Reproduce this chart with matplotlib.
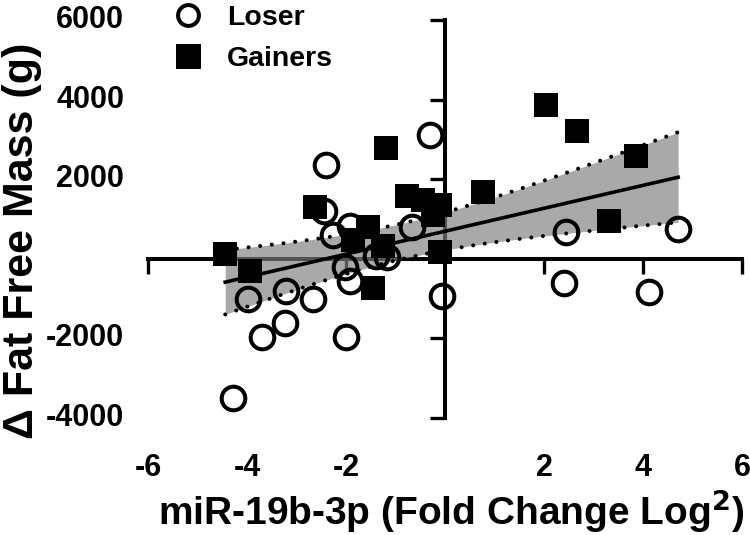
import numpy as np
import matplotlib.pyplot as plt
from matplotlib.lines import Line2D
from matplotlib.transforms import blended_transform_factory

plt.rcParams['font.family'] = ['Liberation Sans', 'DejaVu Sans']
plt.rcParams['font.weight'] = 'bold'

# data
loser_x = [-0.30, -2.41, -2.45, -2.26, -1.91, -2.03, -1.92, -1.40, -1.18, -0.67, -0.06,
           -3.97, -3.21, -2.66, -3.23, -3.70, -1.99, -4.28, 2.44, 4.71, 2.40, 4.13]
loser_y = [3110, 2350, 1210, 590, 830, -200, -570, 60, 40, 790, -930,
           -1000, -810, -1006, -1602, -1970, -1970, -3490, 672, 755, -596, -838]

gainer_x = [-4.44, -3.94, -2.62, -1.19, -1.55, -1.85, -1.26, -1.45, -0.77, -0.44, -0.10,
            -0.25, -0.10, 0.76, 2.04, 2.67, 3.86, 3.31]
gainer_y = [126, -300, 1310, 2785, 790, 478, 310, -740, 1585, 1470, 1360,
            1100, 160, 1668, 3857, 3203, 2592, 940]

xticks = [-6, -4, -2, 2, 4, 6]
yticks = [-4000, -2000, 2000, 4000, 6000]

# linear fit + 95% CI over all subjects
x_all = np.array(loser_x + gainer_x)
y_all = np.array(loser_y + gainer_y)
n = len(x_all)
slope, icpt = np.polyfit(x_all, y_all, 1)
xs = np.linspace(x_all.min(), x_all.max(), 200)
fit = icpt + slope * xs
resid = y_all - (icpt + slope * x_all)
s = np.sqrt(np.sum(resid ** 2) / (n - 2))
sxx = np.sum((x_all - x_all.mean()) ** 2)
t_crit = 2.024  # t(0.975, df=38)
ci = t_crit * s * np.sqrt(1 / n + (xs - x_all.mean()) ** 2 / sxx)

fig = plt.figure(figsize=(7.5, 5.35), dpi=100)
ax = fig.add_axes([148 / 750, 117 / 535, 594 / 750, 398 / 535])
ax.set_xlim(-6, 6)
ax.set_ylim(-4000, 6000)

ax.fill_between(xs, fit - ci, fit + ci, color='#7f7f7f', alpha=0.67, lw=0, zorder=3)
ax.plot(xs, fit + ci, color='black', lw=2.9, ls=(0, (0.01, 2.9)), dash_capstyle='round', zorder=4)
ax.plot(xs, fit - ci, color='black', lw=2.9, ls=(0, (0.01, 2.9)), dash_capstyle='round', zorder=4)
ax.plot(xs, fit, color='black', lw=2.6, zorder=4)

ax.plot(loser_x, loser_y, ls='none', marker='o', ms=17, mfc='none', mec='black', mew=2.9, zorder=5)
ax.plot(gainer_x, gainer_y, ls='none', marker='s', ms=17, mfc='black', mec='black', mew=0, zorder=6)

# axes crossing at origin
for side in ['top', 'right']:
    ax.spines[side].set_visible(False)
ax.spines['left'].set_position(('data', 0))
ax.spines['bottom'].set_position(('data', 0))
ax.spines['left'].set_linewidth(2.9)
ax.spines['bottom'].set_linewidth(2.9)
ax.set_xticks(xticks)
ax.set_yticks(yticks)
ax.tick_params(length=11, width=2.4, direction='out', labelbottom=False, labelleft=False)

tx = blended_transform_factory(ax.transData, ax.transAxes)
for v in xticks:
    ax.text(v, -0.126, str(v), transform=tx, ha='center', va='center', fontsize=22, fontweight='bold')
ty = blended_transform_factory(ax.transAxes, ax.transData)
for v in yticks:
    ax.text(-0.04, v, str(v), transform=ty, ha='right', va='center', fontsize=22, fontweight='bold')

fig.text(0.601, 0.045, 'miR-19b-3p (Fold Change Log$^\\mathbf{2}$)', ha='center', va='center',
         fontsize=28, fontweight='bold')
fig.text(0.029, 0.55, '\u0394 Fat Free Mass (g)', ha='center', va='center', rotation=90,
         fontsize=31, fontweight='bold')

handles = [Line2D([], [], ls='none', marker='o', ms=15, mfc='none', mec='black', mew=2.9),
           Line2D([], [], ls='none', marker='s', ms=18, mfc='black', mec='black', mew=0)]
fig.legend(handles, ['Loser', 'Gainers'], loc='upper left', bbox_to_anchor=(174 / 750, 0.99),
           frameon=False, fontsize=20.5, handlelength=1.0, handletextpad=0.85,
           labelspacing=0.5, borderpad=0, borderaxespad=0)

fig.savefig('out.png', dpi=100)
